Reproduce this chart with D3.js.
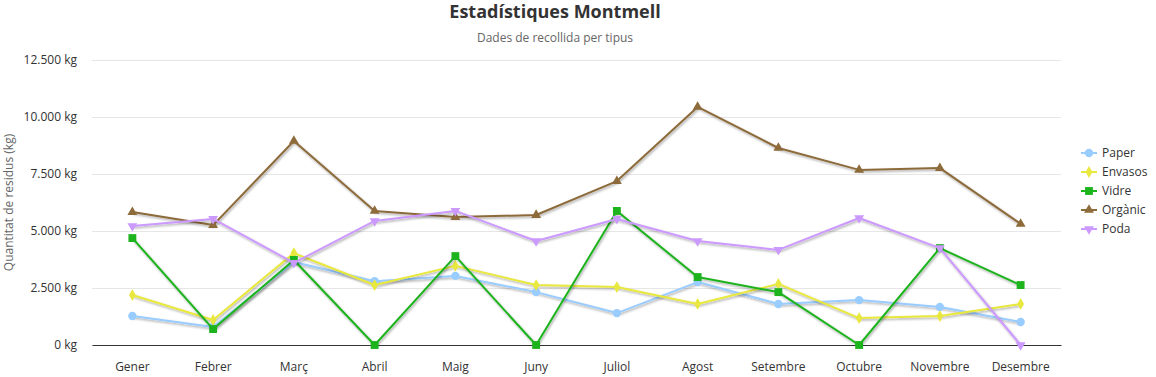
<!DOCTYPE html>
<html>
<head>
<meta charset="utf-8">
<script src="https://cdn.jsdelivr.net/npm/d3@7"></script>
<style>
  body { margin: 0; background: #fff; }
  svg { font-family: "Open Sans", "Noto Sans", sans-serif; }
</style>
</head>
<body>
<div id="chart"></div>
<script>
// months on the x axis
const months = ['Gener', 'Febrer', 'Març', 'Abril', 'Maig', 'Juny', 'Juliol', 'Agost', 'Setembre', 'Octubre', 'Novembre', 'Desembre'];
const yTicks = [0, 2500, 5000, 7500, 10000, 12500];

// kg per type
const paper   = [1270, 790, 3640, 2800, 3030, 2320, 1400, 2760, 1800, 1970, 1670, 1010];
const envasos = [2190, 1100, 4030, 2630, 3470, 2630, 2540, 1800, 2680, 1180, 1270, 1800];
const vidre   = [4690, 700, 3730, 0, 3900, 0, 5880, 2980, 2320, 0, 4250, 2630];
const organic = [5830, 5260, 8950, 5880, 5610, 5700, 7190, 10440, 8640, 7680, 7760, 5310];
const poda    = [5220, 5530, 3600, 5440, 5880, 4560, 5530, 4560, 4170, 5570, 4250, 0];

const series = [
  { name: 'Paper', data: paper, color: '#99ccff', symbol: 'circle' },
  { name: 'Envasos', data: envasos, color: '#e8e83e', symbol: 'diamond' },
  { name: 'Vidre', data: vidre, color: '#1db31d', symbol: 'square' },
  { name: 'Orgànic', data: organic, color: '#8d6b3a', symbol: 'triangle' },
  { name: 'Poda', data: poda, color: '#cc99ff', symbol: 'triangle-down' }
];

const W = 1156, H = 377;
const margin = { top: 60, right: 95, bottom: 32, left: 92 };

const svg = d3.select('#chart').append('svg')
  .attr('width', W)
  .attr('height', H);

// soft shadow under the lines, like the original
const defs = svg.append('defs');
defs.append('filter')
  .attr('id', 'shadow')
  .attr('x', '-5%').attr('y', '-20%').attr('width', '110%').attr('height', '140%')
  .append('feDropShadow')
  .attr('dx', 1).attr('dy', 1.5)
  .attr('stdDeviation', 1.3)
  .attr('flood-color', '#000')
  .attr('flood-opacity', 0.35);

const x = d3.scaleBand()
  .domain(months)
  .range([margin.left, 1061]);

const y = d3.scaleLinear()
  .domain([0, 12500])
  .range([345, margin.top]);

const fmt = v => d3.format(',')(v).replace(/,/g, '.') + ' kg';

// title
svg.append('text')
  .attr('x', 555).attr('y', 18)
  .attr('text-anchor', 'middle')
  .attr('font-size', 18).attr('font-weight', 'bold')
  .attr('fill', '#333')
  .text('Estadístiques Montmell');

svg.append('text')
  .attr('x', 555).attr('y', 42)
  .attr('text-anchor', 'middle')
  .attr('font-size', 12)
  .attr('fill', '#666')
  .text('Dades de recollida per tipus');

// grid + y axis
const yAxis = svg.append('g')
  .attr('transform', 'translate(' + margin.left + ',0)')
  .call(d3.axisLeft(y).tickValues(yTicks).tickSize(-(1061 - margin.left)).tickFormat(fmt).tickPadding(15));
yAxis.select('.domain').remove();
yAxis.selectAll('.tick line').attr('stroke', '#e6e6e6');
yAxis.selectAll('.tick text')
  .attr('font-size', 12).attr('fill', '#333')
  .attr('font-family', '"Open Sans", "Noto Sans", sans-serif');

svg.append('text')
  .attr('transform', 'translate(13,' + ((345 + margin.top) / 2) + ') rotate(-90)')
  .attr('text-anchor', 'middle')
  .attr('font-size', 12)
  .attr('fill', '#666')
  .text('Quantitat de residus (kg)');

// x axis
const xAxis = svg.append('g')
  .attr('transform', 'translate(0,345)')
  .call(d3.axisBottom(x).tickSize(0).tickPadding(17));
xAxis.select('.domain').attr('stroke', '#333');
xAxis.selectAll('.tick text')
  .attr('font-size', 12).attr('fill', '#333')
  .attr('font-family', '"Open Sans", "Noto Sans", sans-serif');

const cx = m => x(m) + x.bandwidth() / 2;

const line = d3.line()
  .x((d, i) => cx(months[i]))
  .y(d => y(d));

const symbolType = {
  'circle': d3.symbolCircle,
  'diamond': d3.symbolDiamond,
  'square': d3.symbolSquare,
  'triangle': d3.symbolTriangle,
  'triangle-down': d3.symbolTriangle
};
const symbolSize = {
  'circle': 55, 'diamond': 40, 'square': 62, 'triangle': 42, 'triangle-down': 42
};

function drawSymbol(g, s, px, py) {
  g.append('path')
    .attr('d', d3.symbol().type(symbolType[s.symbol]).size(symbolSize[s.symbol])())
    .attr('transform', 'translate(' + px + ',' + py + ')' + (s.symbol === 'triangle-down' ? ' rotate(180)' : ''))
    .attr('fill', s.color);
}

const plot = svg.append('g');
series.forEach(s => {
  const g = plot.append('g');
  g.append('path')
    .datum(s.data)
    .attr('d', line)
    .attr('fill', 'none')
    .attr('stroke', s.color)
    .attr('stroke-width', 2)
    .attr('stroke-linejoin', 'round')
    .attr('filter', 'url(#shadow)');
  s.data.forEach((v, i) => drawSymbol(g, s, cx(months[i]), y(v)));
});

// legend
const legend = svg.append('g').attr('transform', 'translate(1081,153)');
series.forEach((s, i) => {
  const item = legend.append('g').attr('transform', 'translate(0,' + (i * 19) + ')');
  item.append('line')
    .attr('x1', 0).attr('x2', 16)
    .attr('stroke', s.color).attr('stroke-width', 2);
  drawSymbol(item, s, 8, 0);
  item.append('text')
    .attr('x', 21).attr('y', 4)
    .attr('font-size', 12).attr('fill', '#333')
    .text(s.name);
});
</script>
</body>
</html>
